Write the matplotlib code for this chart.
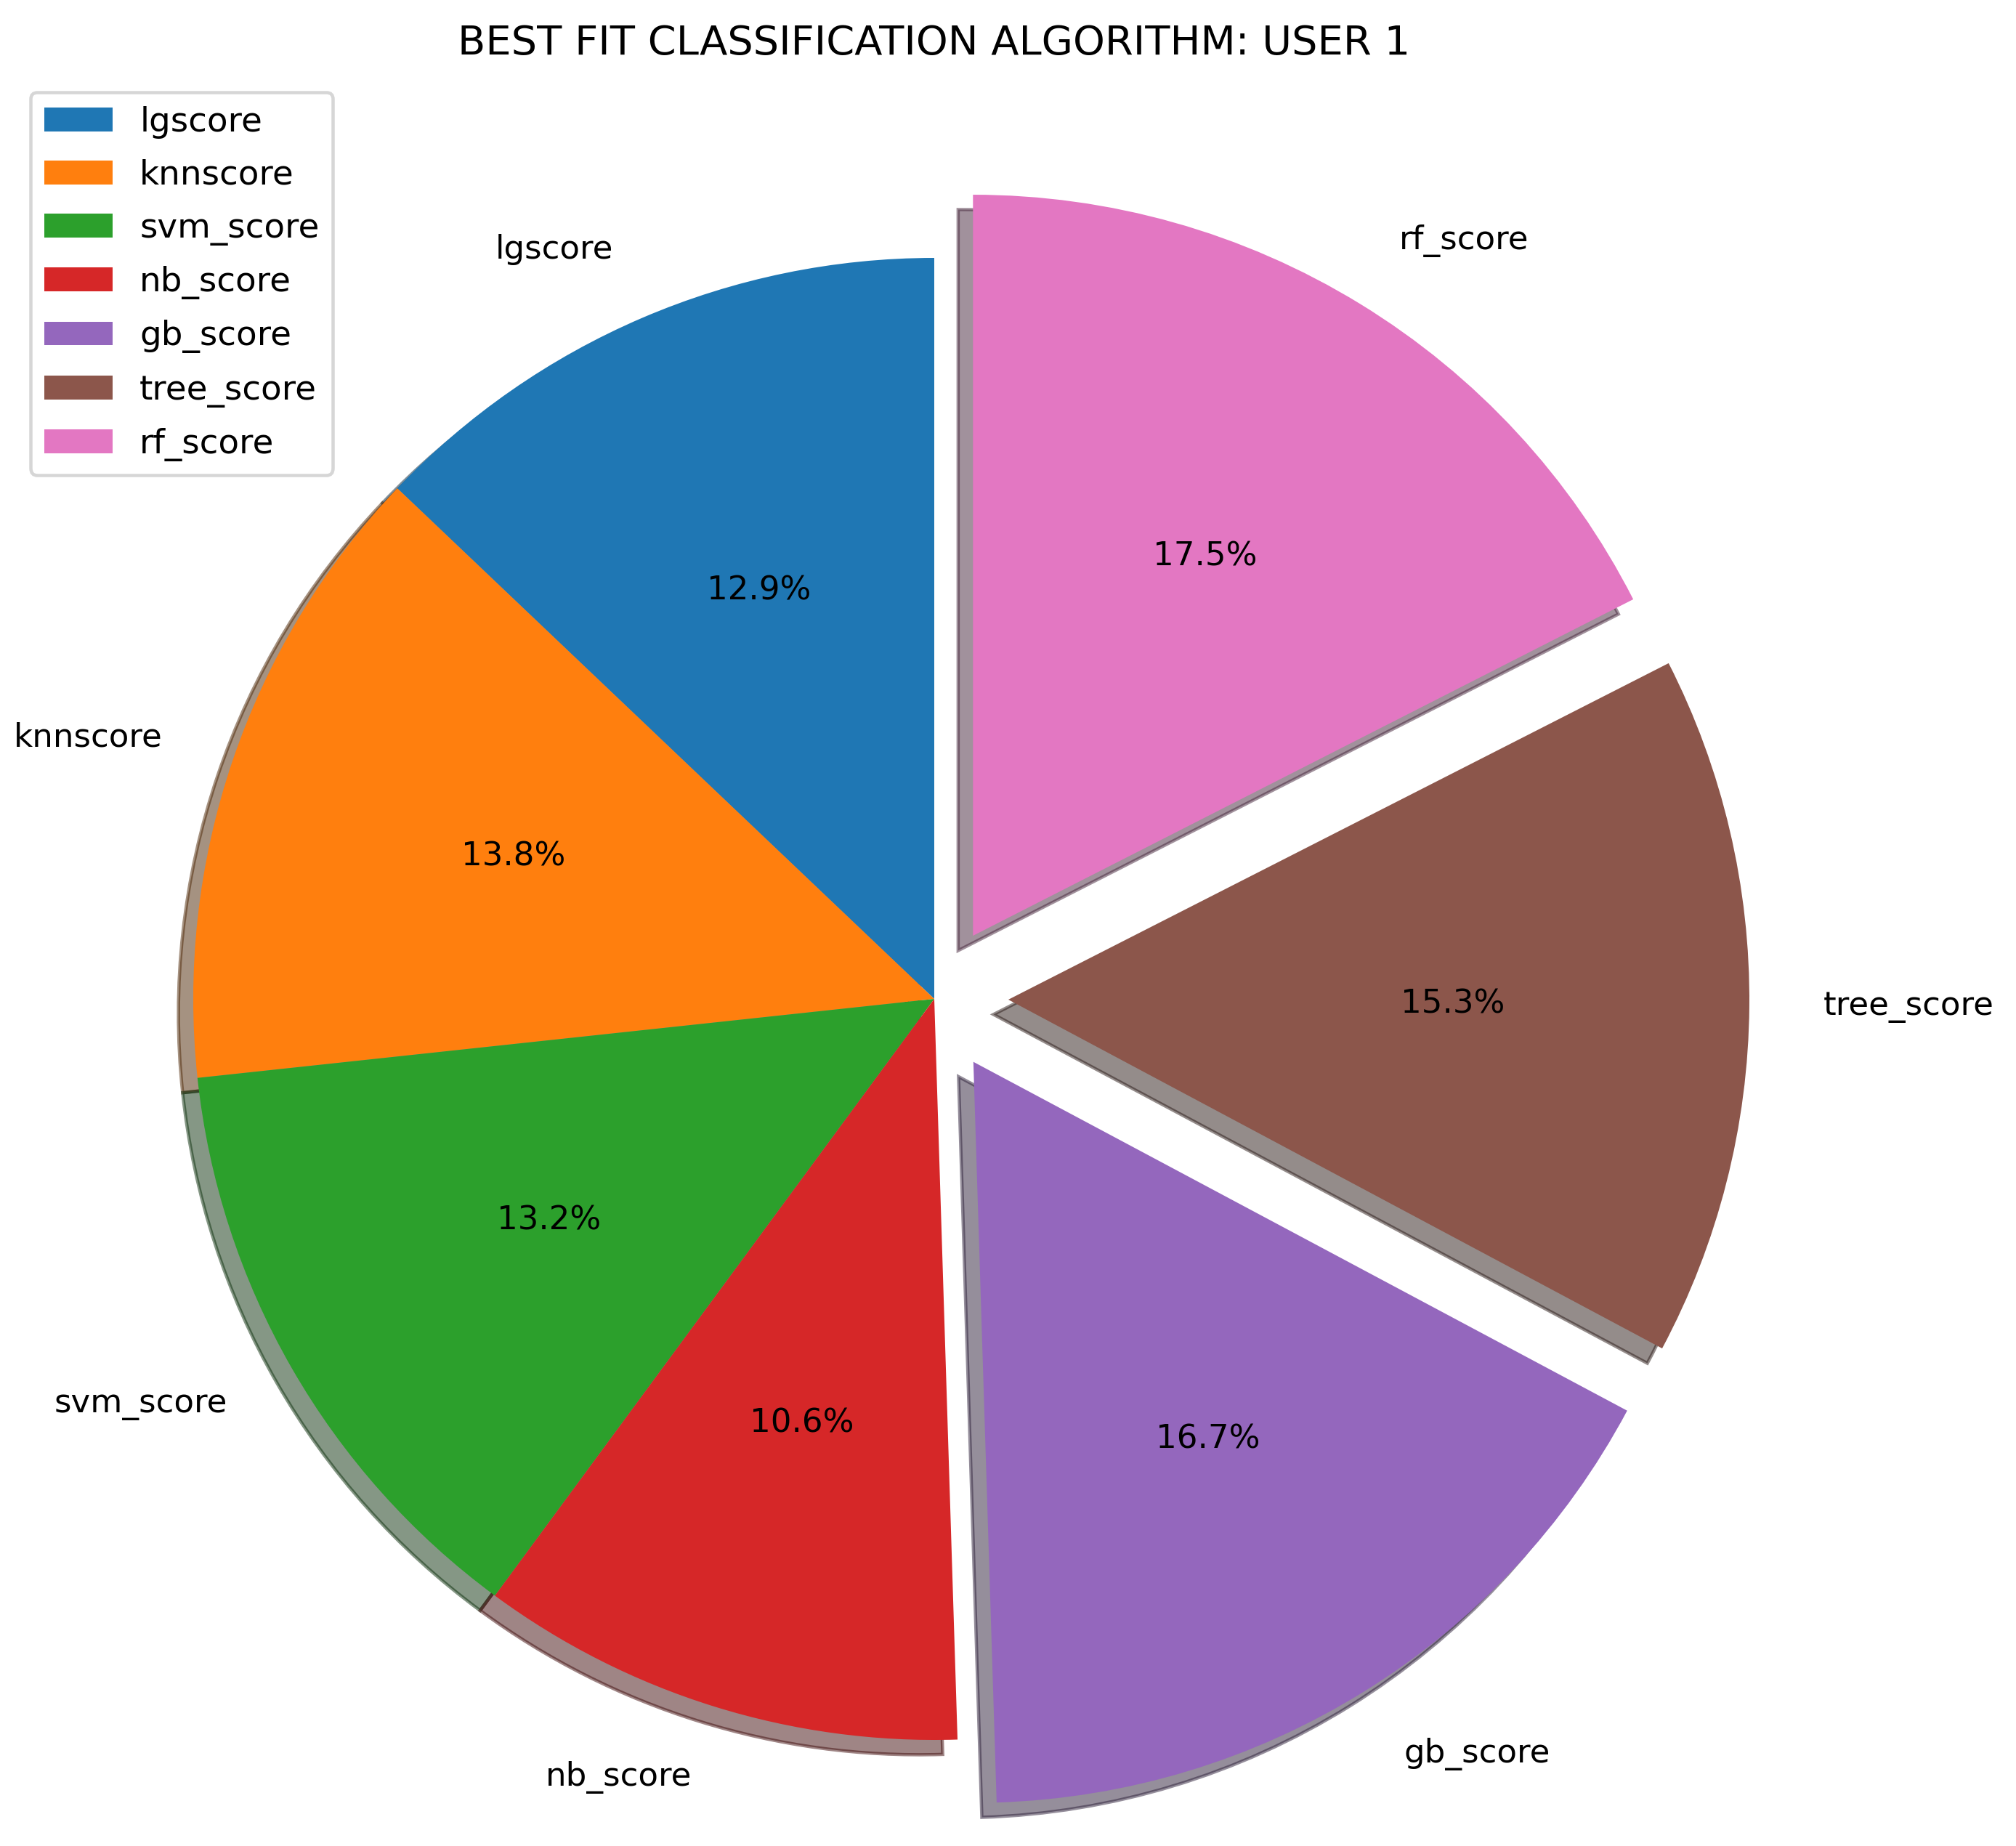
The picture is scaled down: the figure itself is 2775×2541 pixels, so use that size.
import matplotlib
matplotlib.use("Agg")
import matplotlib.pyplot as plt

# data
algorithms = ["lgscore", "knnscore", "svm_score", "nb_score", "gb_score", "tree_score", "rf_score"]
shares = [12.9, 13.8, 13.2, 10.6, 16.7, 15.3, 17.5]
explode = [0, 0, 0, 0, 0.1, 0.1, 0.1]

DPI = 325
W, H = 2775, 2541
fig = plt.figure(figsize=(W / DPI, H / DPI), dpi=DPI)
ax = fig.add_axes([0, 0, 1, 1])

# shadow offset is scaled by dpi/72, so undo that to keep 0.02 data units
shadow = {"ox": -0.02 * 72 / DPI, "oy": -0.02 * 72 / DPI}

wedges, texts, autotexts = ax.pie(
    shares,
    labels=algorithms,
    explode=explode,
    autopct="%1.1f%%",
    startangle=90,
    shadow=shadow,
)

# place the pie where it sits in the reference (centre and radius in pixels)
cx, cy, r = 1286, 1375, 1020
ax.set_xlim(-cx / r, (W - cx) / r)
ax.set_ylim(-(H - cy) / r, cy / r)
ax.set_aspect("auto")

fig.text(cx / W, 1 - 60 / H, "BEST FIT CLASSIFICATION ALGORITHM: USER 1",
         ha="center", va="center", fontsize=12.4)

ax.legend(wedges, algorithms, loc="upper left",
          bbox_to_anchor=(42 / W, 1 - 127 / H), bbox_transform=fig.transFigure,
          borderaxespad=0, fontsize=10.4, labelspacing=0.6)

fig.savefig("out.png", dpi=DPI)
